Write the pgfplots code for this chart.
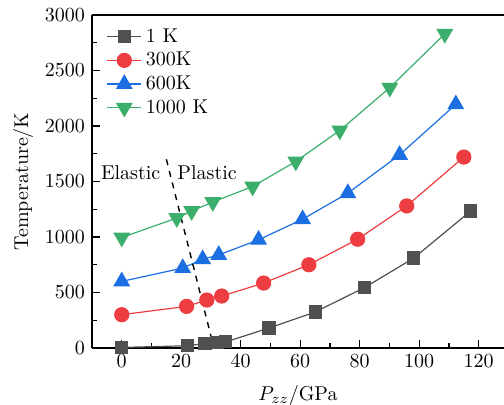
\documentclass[border=0pt]{standalone}
\usepackage{pgfplots}
\pgfplotsset{compat=1.18}
\definecolor{cgray}{HTML}{505050}
\definecolor{cred}{HTML}{EE3D40}
\definecolor{cblue}{HTML}{1C6FE0}
\definecolor{cgreen}{HTML}{3AAE6A}
\begin{document}
\begin{tikzpicture}
\begin{axis}[
  scale only axis,
  width=206pt, height=166.5pt,
  xmin=-10, xmax=128.5, ymin=0, ymax=3000,
  axis x line=box, axis y line=left,
  axis line style={-, line width=0.8pt},
  xtick={0,20,...,120}, ytick={0,500,...,3000},
  minor x tick num=1, minor y tick num=1,
  xtick pos=bottom, ytick pos=left,
  tick align=inside,
  major tick length=4pt, minor tick length=2.5pt,
  tick style={line width=0.7pt, black},
  /pgf/number format/set thousands separator={},
  xlabel={$P_{zz}$/GPa}, ylabel={Temperature/K},
  xlabel style={yshift=-2pt},
  ylabel style={yshift=-1pt},
  clip=false,
  legend style={draw=none, fill=none, at={(0.02,0.985)}, anchor=north west,
    row sep=-0.5pt, font=\normalsize},
  legend cell align=left,
  every axis plot/.append style={line width=0.6pt},
]
\addplot[cgray, mark=square*, mark size=3pt, mark options={fill=cgray, draw=cgray}] coordinates {
 (0,5) (22,20) (28,40) (32,50) (35,55) (49.5,180) (65,324) (81.7,545) (98.2,811) (117.3,1234)};
\addlegendentry{1 K}
\addplot[cred, mark=*, mark size=3.5pt, mark options={fill=cred, draw=cred}] coordinates {
 (0,300) (21.8,375) (28.6,432) (33.6,468) (47.7,585) (62.9,750) (79.3,980) (95.8,1280) (115,1720)};
\addlegendentry{300K}
\addplot[cblue, mark=triangle*, mark size=4.3pt, mark options={fill=cblue, draw=cblue}] coordinates {
 (0,600) (20.5,720) (27.2,800) (32.6,838) (46,975) (60.8,1160) (76,1395) (93.4,1740) (112.3,2195)};
\addlegendentry{600K}
\addplot[cgreen, mark=triangle*, mark size=4.3pt, mark options={fill=cgreen, draw=cgreen, rotate=180}] coordinates {
 (0,995) (18.5,1171) (23.5,1234) (30.6,1315) (44,1455) (58.5,1680) (73.3,1960) (90.1,2345) (108.6,2830)};
\addlegendentry{1000 K}
\addplot[black, dashed, line width=0.7pt, forget plot] coordinates {(15,1700) (31,0)};
\node at (axis cs:3,1577) {Elastic};
\node at (axis cs:28.7,1577) {Plastic};
\end{axis}
\pgfresetboundingbox
\path ([xshift=-46pt,yshift=-28.5pt]current axis.south west) rectangle ([yshift=7.5pt]current axis.north east);
\end{tikzpicture}
\end{document}
